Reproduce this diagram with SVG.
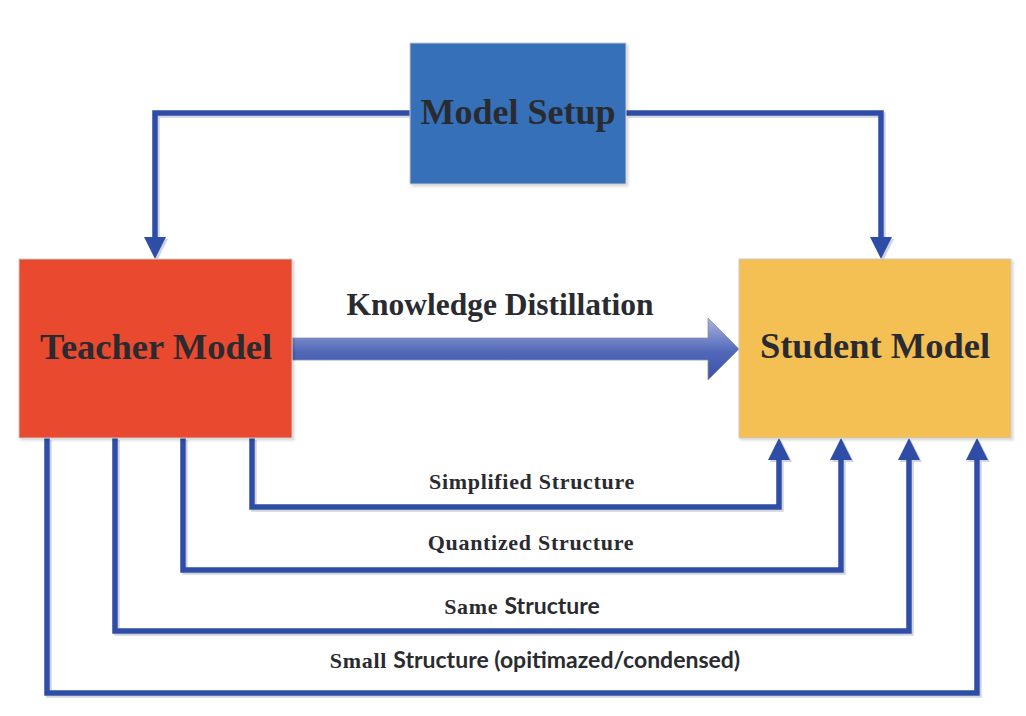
<svg xmlns="http://www.w3.org/2000/svg" width="1026" height="716" viewBox="0 0 1026 716">
  <style>
    .box { stroke: #c9c9c9; stroke-width: 1; filter: url(#boxShadow); }
    .title { font-family: "Liberation Serif", "Times New Roman", serif; font-weight: bold; fill: #2a2b30; text-anchor: middle; }
    .label { font-family: "Liberation Serif", "Times New Roman", serif; font-weight: bold; font-size: 22px; fill: #2a2b30; text-anchor: middle; letter-spacing: 0.7px; }
    .sans { font-family: Lato, "Liberation Sans", sans-serif; font-size: 23px; letter-spacing: 0; }
    .link { fill: none; stroke: #2f4ea6; stroke-width: 5.5; stroke-linejoin: miter; marker-end: url(#head); }
  </style>
  <defs>
    <marker id="head" markerUnits="userSpaceOnUse" markerWidth="22" markerHeight="22" refX="14" refY="11" orient="auto">
      <path d="M0,0 L22,11 L0,22 Z" fill="#2f4ea6"/>
    </marker>
    <filter id="boxShadow" x="-5%" y="-5%" width="115%" height="115%">
      <feDropShadow dx="2" dy="2" stdDeviation="1" flood-color="#000" flood-opacity="0.15"/>
    </filter>
    <filter id="lineShadow" x="-5%" y="-5%" width="110%" height="110%">
      <feDropShadow dx="2" dy="2" stdDeviation="0.6" flood-color="#9aa0b0" flood-opacity="0.45"/>
    </filter>
    <linearGradient id="shaft" x1="0" y1="0" x2="0" y2="1">
      <stop offset="0" stop-color="#aab3de"/>
      <stop offset="0.55" stop-color="#5168b9"/>
      <stop offset="1" stop-color="#3c51a6"/>
    </linearGradient>
  </defs>

  <rect width="1026" height="716" fill="#ffffff"/>

  <!-- connectors -->
  <g id="connectors" filter="url(#lineShadow)">
    <path class="link" d="M410,113 H155 V251"/>
    <path class="link" d="M626,113 H881 V251"/>
    <path class="link" d="M252,438 V507 H779 V446"/>
    <path class="link" d="M183,438 V570 H841 V446"/>
    <path class="link" d="M115,438 V631 H909 V446"/>
    <path class="link" d="M47,438 V693 H977 V446"/>
  </g>

  <!-- knowledge distillation block arrow -->
  <g id="distillation">
    <path d="M292,338 H708 V318 L739,349 L708,380 V360 H292 Z" fill="url(#shaft)" stroke="#8a8fa6" stroke-width="0.8"/>
    <text class="title" x="500" y="315" font-size="31.5">Knowledge Distillation</text>
  </g>

  <g id="model-setup">
    <rect class="box" x="410" y="43" width="216" height="141" fill="#3670b8"/>
    <text class="title" x="518" y="124" font-size="36">Model Setup</text>
  </g>

  <g id="teacher-model">
    <rect class="box" x="19" y="259" width="273" height="179" fill="#e9482e"/>
    <text class="title" x="156" y="359" font-size="36.5">Teacher Model</text>
  </g>

  <g id="student-model">
    <rect class="box" x="739" y="259" width="272" height="179" fill="#f4bf52"/>
    <text class="title" x="875" y="358" font-size="36.5">Student Model</text>
  </g>

  <!-- connector labels -->
  <g id="labels">
    <text class="label" x="532" y="489">Simplified Structure</text>
    <text class="label" x="531" y="550">Quantized Structure</text>
    <text class="label" x="522" y="614">Same <tspan class="sans">Structure</tspan></text>
    <text class="label" x="535" y="668">Small <tspan class="sans">Structure (opitimazed/condensed)</tspan></text>
  </g>
</svg>
